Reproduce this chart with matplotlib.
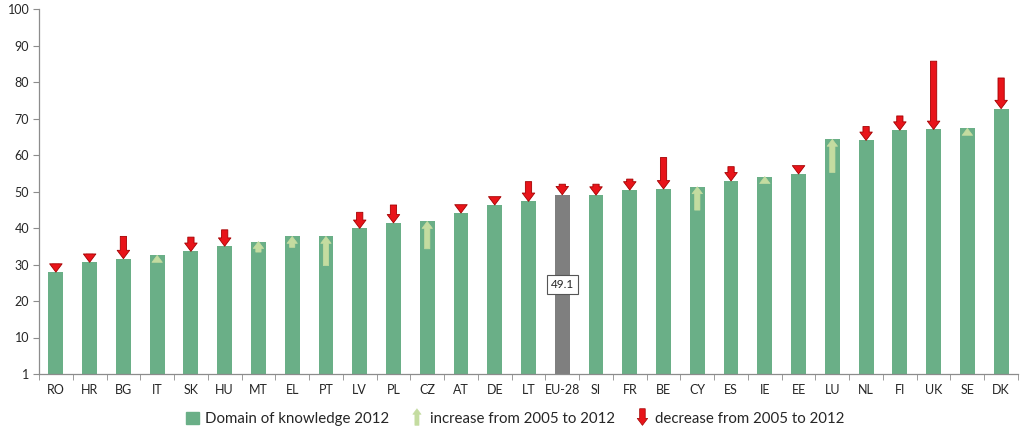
import matplotlib
matplotlib.use("Agg")
import matplotlib.pyplot as plt
from matplotlib.patches import Patch, FancyArrowPatch
from matplotlib.legend_handler import HandlerBase

countries = ["RO", "HR", "BG", "IT", "SK", "HU", "MT", "EL", "PT", "LV", "PL", "CZ",
             "AT", "DE", "LT", "EU-28", "SI", "FR", "BE", "CY", "ES", "IE", "EE", "LU",
             "NL", "FI", "UK", "SE", "DK"]
values_2012 = [27.9, 30.6, 31.6, 32.5, 33.6, 35.0, 36.3, 37.7, 37.7, 39.9, 41.4, 41.8,
               44.1, 46.3, 47.3, 49.1, 49.0, 50.4, 50.7, 51.3, 52.9, 54.1, 54.8, 64.3,
               64.0, 66.8, 67.0, 67.3, 72.7]
values_2005 = [30.2, 32.9, 37.7, 31.1, 37.5, 39.5, 33.4, 34.7, 29.7, 44.3, 46.3, 34.3,
               45.9, 47.5, 52.7, 52.0, 52.0, 53.4, 59.3, 44.9, 56.8, 52.8, 55.8, 55.2,
               67.8, 70.7, 85.7, 66.1, 81.1]
eu_label = "49.1"
yticks = [0, 10, 20, 30, 40, 50, 60, 70, 80, 90, 100]
ytick_labels = ["1", "10", "20", "30", "40", "50", "60", "70", "80", "90", "100"]

BAR_GREEN = "#6aaf87"
EU_GREY = "#7f7f7f"
INC_FILL = "#c4dca0"
DEC_FILL = "#e8141a"
DEC_EDGE = "#a40000"
AXIS_GREY = "#8c8c8c"
TEXT = "#262626"

plt.rcParams["font.family"] = ["Lato", "DejaVu Sans"]

fig = plt.figure(figsize=(10.24, 4.29), dpi=100)
ax = fig.add_axes([39 / 1024, 1 - 374 / 429, (1018 - 39) / 1024, (374 - 9) / 429])

x = list(range(len(countries)))
colors = [EU_GREY if c == "EU-28" else BAR_GREEN for c in countries]
ax.bar(x, values_2012, width=0.44, color=colors, zorder=2)

def style(inc):
    if inc:
        return dict(arrowstyle="simple,head_width=7.5,head_length=5,tail_width=3.8",
                    fc=INC_FILL, ec=INC_FILL, lw=0.5, mutation_scale=1,
                    shrinkA=0, shrinkB=0)
    return dict(arrowstyle="simple,head_width=9,head_length=6,tail_width=4.5",
                fc=DEC_FILL, ec=DEC_EDGE, lw=0.6, mutation_scale=1,
                shrinkA=0, shrinkB=0)

for xi, v12, v05 in zip(x, values_2012, values_2005):
    inc = v12 > v05
    ax.annotate("", xy=(xi, v12), xytext=(xi, v05), arrowprops=style(inc), zorder=3)

ei = countries.index("EU-28")
ax.text(ei, 24.5, eu_label, ha="center", va="center", fontsize=8.5, color=TEXT,
        bbox=dict(boxstyle="square,pad=0.35", fc="white", ec="#555555", lw=0.8), zorder=4)

ax.set_xlim(-0.5, len(countries) - 0.5)
ax.set_ylim(0, 100)
ax.set_yticks(yticks)
ax.set_yticklabels(ytick_labels)
ax.set_xticks(x)
ax.set_xticklabels(countries)
ax.set_xticks([i - 0.5 for i in range(len(countries) + 1)], minor=True)
ax.tick_params(axis="x", which="major", length=0, pad=7, labelsize=9, labelcolor=TEXT)
ax.tick_params(axis="x", which="minor", length=4, color=AXIS_GREY, direction="out")
ax.tick_params(axis="y", length=4, color=AXIS_GREY, labelsize=9, labelcolor=TEXT, pad=3)
for s in ["top", "right"]:
    ax.spines[s].set_visible(False)
for s in ["left", "bottom"]:
    ax.spines[s].set_color(AXIS_GREY)
    ax.spines[s].set_linewidth(0.9)


class ArrowHandler(HandlerBase):
    def __init__(self, inc):
        super().__init__()
        self.inc = inc

    def create_artists(self, legend, orig_handle, xdescent, ydescent, width, height, fontsize, trans):
        cx = width / 2 - xdescent
        if self.inc:
            a = FancyArrowPatch((cx, -ydescent - 1), (cx, height - ydescent + 2),
                                arrowstyle="simple,head_width=6,head_length=4,tail_width=3",
                                mutation_scale=1, fc=INC_FILL, ec=INC_FILL, lw=0.4,
                                transform=trans, shrinkA=0, shrinkB=0)
        else:
            a = FancyArrowPatch((cx, height - ydescent + 2), (cx, -ydescent - 1),
                                arrowstyle="simple,head_width=7.5,head_length=5,tail_width=4",
                                mutation_scale=1, fc=DEC_FILL, ec=DEC_EDGE, lw=0.5,
                                transform=trans, shrinkA=0, shrinkB=0)
        return [a]


inc_h = Patch(label="inc")
dec_h = Patch(label="dec")
handles = [Patch(color=BAR_GREEN), inc_h, dec_h]
labels = ["Domain of knowledge 2012", "increase from 2005 to 2012", "decrease from 2005 to 2012"]
fig.legend(handles, labels, loc="center", bbox_to_anchor=(0.503, 0.024), ncol=3,
           frameon=False, fontsize=10.8, handlelength=0.9, handleheight=0.9,
           handletextpad=0.4, columnspacing=1.4,
           handler_map={inc_h: ArrowHandler(True), dec_h: ArrowHandler(False)},
           labelcolor=TEXT)

fig.savefig("out.png", dpi=100)
